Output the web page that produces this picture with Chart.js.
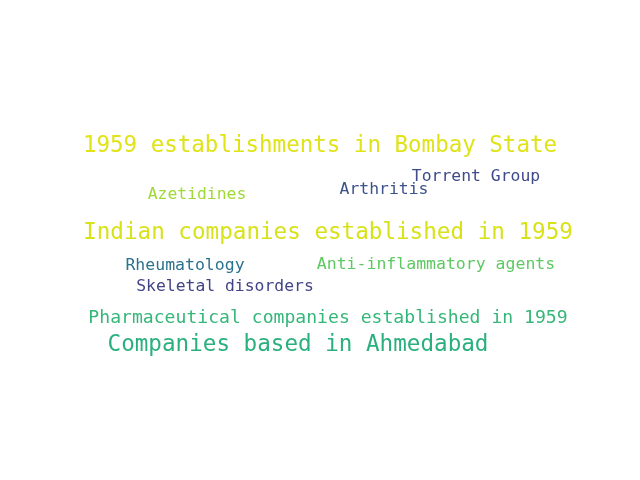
<!DOCTYPE html>
<html>
<head>
<meta charset="utf-8">
<script src="https://cdn.jsdelivr.net/npm/chart.js@4/dist/chart.umd.min.js"></script>
<style>body{margin:0;background:#fff}</style>
</head>
<body>
<canvas id="cloud" width="640" height="480"></canvas>
<script>
// words of the cloud, with their weight (font size) and place in the cloud
var words = ['1959 establishments in Bombay State', 'Torrent Group', 'Arthritis', 'Azetidines',
  'Indian companies established in 1959', 'Rheumatology', 'Anti-inflammatory agents',
  'Skeletal disorders', 'Pharmaceutical companies established in 1959', 'Companies based in Ahmedabad'];
var wordX = [320, 476, 384, 197, 328, 185, 436, 225, 328, 298];
var wordY = [146, 177, 190, 195, 233, 266, 265, 287, 318, 345];
var weights = [22.5, 16.4, 16.4, 16.4, 22.6, 16.5, 16.5, 16.4, 18.1, 22.6];
var colors = ['#dfe318', '#3e4a89', '#3b528b', '#a0da39', '#d8e219', '#2c728e', '#5ec962', '#414487', '#35b779', '#2ab07f'];

var wordPlugin = {
  id: 'words',
  afterDatasetsDraw: function(chart) {
    var ctx = chart.ctx;
    var xs = chart.scales.x, ys = chart.scales.y;
    ctx.save();
    ctx.textAlign = 'center';
    ctx.textBaseline = 'middle';
    words.forEach(function(w, i) {
      ctx.font = weights[i] + 'px "DejaVu Sans Mono"';
      ctx.fillStyle = colors[i];
      ctx.fillText(w, xs.getPixelForValue(wordX[i]), ys.getPixelForValue(wordY[i]));
    });
    ctx.restore();
  }
};

new Chart(document.getElementById('cloud').getContext('2d'), {
  type: 'scatter',
  data: {
    datasets: [{
      data: words.map(function(w, i) { return {x: wordX[i], y: wordY[i]}; }),
      pointRadius: 0
    }]
  },
  options: {
    responsive: false,
    animation: false,
    layout: {padding: 0},
    plugins: {legend: {display: false}, tooltip: {enabled: false}},
    scales: {
      x: {display: false, min: 0, max: 640},
      y: {display: false, min: 0, max: 480, reverse: true}
    }
  },
  plugins: [wordPlugin]
});
</script>
</body>
</html>
